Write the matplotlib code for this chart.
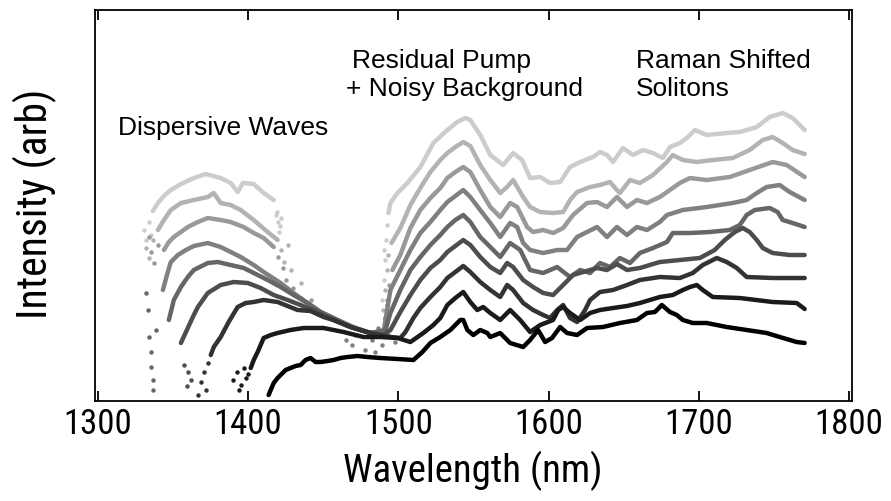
import matplotlib
matplotlib.use("Agg")
import matplotlib.pyplot as plt

# Spectra, bottom (black) to top (light grey).
# wavelength in nm, intensity in arbitrary units.
c1_wl = [1413.6, 1417, 1419.6, 1421.6, 1424.9, 1428.2, 1431.6, 1434.9, 1438.2, 1441.5,
         1444.9, 1448.2, 1452.9, 1456.8, 1461.5, 1466.1, 1472.8, 1479.4, 1488.1, 1499.4,
         1510, 1516, 1521.3, 1527.9, 1534.6, 1541.2, 1543.2, 1545.9, 1549.9, 1554.5,
         1559.2, 1561.2, 1567.8, 1574.4, 1583.1, 1587.7, 1593, 1597.7, 1602.3, 1607.7,
         1612.3, 1619, 1625.6, 1636.2, 1647.5, 1658.8, 1665.5, 1670.8, 1675.4, 1680.8,
         1685.4, 1689.4, 1696, 1705.3, 1718.6, 1731.9, 1745.2, 1753.9, 1765.2, 1770.5]
c1_int = [6, 18, 23, 26, 31, 33, 35, 36, 41, 43,
          39, 39, 40, 41, 43, 44, 45, 44, 43, 42,
          41, 49, 58, 64, 71, 81, 81, 71, 66, 71,
          68, 64, 68, 58, 54, 61, 71, 59, 63, 74,
          68, 66, 73, 74, 78, 81, 88, 89, 96, 89,
          86, 81, 78, 78, 74, 71, 68, 64, 59, 58]

c2_wl = [1401.7, 1403.7, 1406.3, 1408.3, 1410.3, 1415, 1419.6, 1428.2, 1436.9, 1450.2,
         1463.5, 1476.8, 1488.1, 1499.4, 1508, 1516.6, 1523.3, 1527.9, 1532.6, 1537.9,
         1543.2, 1547.9, 1552.5, 1556.5, 1561.2, 1567.8, 1574.4, 1581.1, 1587.7, 1594.4,
         1603, 1606.4, 1609.7, 1614.3, 1621, 1627.6, 1634.2, 1642.9, 1652.2, 1660.8,
         1674.1, 1682.7, 1689.4, 1694.1, 1698.7, 1702.7, 1709.3, 1727.3, 1749.2, 1765.2,
         1770.5]
c2_int = [33, 41, 49, 56, 63, 66, 68, 71, 73, 73,
          69, 64, 64, 63, 59, 68, 76, 83, 96, 103,
          109, 99, 91, 94, 88, 81, 91, 81, 69, 76,
          81, 91, 94, 88, 81, 88, 91, 93, 95, 98,
          104, 106, 111, 114, 116, 111, 104, 103, 99, 98,
          92]
c2_dots_wl = [1389.7, 1392.4, 1395, 1397, 1398.3, 1393.7, 1400]
c2_dots_int = [21, 29, 16, 33, 23, 11, 27]

c3_wl = [1375.1, 1377.1, 1381.7, 1387, 1393, 1398.3, 1403.7, 1410.3, 1419.6, 1432.9,
         1441.5, 1450.2, 1456.8, 1468.1, 1483.4, 1494.7, 1501.3, 1504.7, 1510, 1514.6,
         1521.3, 1527.9, 1532.6, 1537.9, 1543.2, 1547.9, 1554.5, 1561.2, 1567.8, 1572.4,
         1576.4, 1583.1, 1589.7, 1596.4, 1601, 1605.7, 1609.7, 1614.3, 1619, 1624.3,
         1627.6, 1634.2, 1642.9, 1652.2, 1660.8, 1674.1, 1687.4, 1696, 1702.7, 1712,
         1718.6, 1725.3, 1731.9, 1749.2, 1770.5]
c3_int = [46, 54, 64, 79, 94, 98, 99, 101, 99, 91,
          90, 84, 81, 74, 67, 64, 63, 69, 83, 93,
          104, 114, 123, 129, 135, 129, 119, 111, 104, 116,
          111, 98, 91, 86, 83, 91, 96, 83, 79, 91,
          101, 109, 111, 116, 121, 124, 123, 128, 136, 143,
          139, 133, 124, 123, 123]
c3_dots_wl = [1366.5, 1368.4, 1370.4, 1371.8, 1373.4]
c3_dots_int = [6, 19, 29, 11, 38]

c4_wl = [1355.2, 1359.8, 1363.8, 1366.5, 1373.1, 1381.7, 1390.4, 1399.7, 1408.3, 1417,
         1426.3, 1434.9, 1446.2, 1456.8, 1468.1, 1479.4, 1490, 1494.7, 1501.3, 1508,
         1514.6, 1521.3, 1527.9, 1532.6, 1537.9, 1543.2, 1547.9, 1554.5, 1561.2, 1567.8,
         1572.4, 1576.4, 1583.1, 1589.7, 1596.4, 1603, 1609.7, 1616.3, 1623, 1632.3,
         1638.9, 1645.5, 1652.2, 1660.8, 1674.1, 1687.4, 1700.7, 1710.6, 1717.3, 1724,
         1729.3, 1733.9, 1738.6, 1742.6, 1749.2, 1760.5, 1770.5]
c4_int = [58, 73, 86, 94, 108, 116, 119, 118, 113, 106,
          101, 96, 89, 81, 74, 69, 66, 71, 89, 106,
          121, 133, 141, 149, 155, 161, 156, 144, 134, 128,
          138, 134, 121, 114, 108, 106, 116, 126, 129, 133,
          131, 137, 131, 133, 139, 141, 143, 151, 161, 169,
          173, 169, 161, 153, 148, 146, 146]
c4_dots_wl = [1357.1, 1359.8, 1361.8, 1359.1]
c4_dots_int = [36, 29, 21, 15]

c5_wl = [1347.2, 1350.5, 1355.2, 1359.8, 1363.8, 1373.1, 1379.7, 1388.4, 1397, 1403.7,
         1413, 1421.6, 1430.2, 1439.5, 1448.2, 1459.5, 1470.1, 1481.4, 1491.4, 1494.7,
         1501.3, 1508, 1514.6, 1521.3, 1527.9, 1532.6, 1537.9, 1543.2, 1547.9, 1554.5,
         1561.2, 1567.8, 1574.4, 1581.1, 1587.7, 1596.4, 1605.7, 1614.3, 1621, 1627.6,
         1634.2, 1640.9, 1647.5, 1654.2, 1660.8, 1669.5, 1678.8, 1682.7, 1694.1, 1707.3,
         1720.6, 1727.3, 1731.9, 1737.3, 1747.2, 1752.5, 1755.9, 1762.5, 1770.5]
c5_int = [81, 101, 114, 124, 131, 138, 139, 136, 133, 128,
          121, 114, 106, 98, 89, 81, 73, 68, 71, 88,
          111, 131, 144, 156, 166, 174, 181, 186, 179, 164,
          154, 144, 158, 151, 131, 128, 134, 124, 131, 128,
          138, 134, 143, 138, 148, 153, 159, 168, 168, 169,
          171, 176, 186, 191, 193, 189, 181, 178, 174]
c5_dots_wl = [1331.9, 1333.2, 1333.9, 1335.2, 1335.2, 1336.5, 1336.5, 1338.5]
c5_dots_int = [108, 91, 64, 49, 34, 21, 11, 71]

c6_wl = [1343.2, 1346.5, 1348.5, 1353.2, 1358.5, 1363.8, 1373.1, 1381.7, 1388.4, 1395,
         1403.7, 1410.3, 1421.6, 1430.2, 1439.5, 1448.2, 1459.5, 1470.1, 1481.4, 1490,
         1494.7, 1501.3, 1508, 1514.6, 1521.3, 1527.9, 1532.6, 1537.9, 1543.2, 1547.9,
         1554.5, 1561.2, 1567.8, 1574.4, 1579.1, 1583.1, 1587.7, 1596.4, 1605.7, 1612.3,
         1619, 1625.6, 1632.3, 1638.9, 1645.5, 1652.2, 1658.8, 1665.5, 1674.1, 1678.8,
         1689.4, 1705.3, 1722.6, 1731.9, 1738.6, 1745.2, 1753.9, 1760.5, 1770.5]
c6_int = [111, 129, 139, 146, 151, 155, 158, 154, 149, 144,
          136, 129, 118, 108, 98, 89, 81, 74, 68, 68,
          111, 131, 151, 168, 179, 191, 199, 205, 211, 204,
          191, 178, 164, 178, 174, 158, 151, 148, 151, 151,
          164, 169, 174, 164, 174, 166, 174, 171, 179, 186,
          191, 194, 198, 201, 208, 214, 216, 209, 201]
c6_dots_wl = [1464.8, 1469.4, 1474.8, 1478.1, 1482.7, 1486.7, 1489.4, 1493.4, 1484.7, 1498,
              1491.4, 1492.7]
c6_dots_int = [61, 56, 71, 51, 61, 73, 56, 66, 49, 59, 83, 96]

c7_dw_wl = [1343.9, 1347.2, 1350.5, 1355.2, 1359.8, 1366.5, 1373.1, 1381.7, 1388.4, 1397,
            1403.7, 1410.3, 1417]
c7_dw_int = [151, 159, 164, 169, 174, 179, 183, 181, 179, 174, 168, 163, 154]
c7_wl = [1496, 1501.3, 1508, 1514.6, 1521.3, 1527.9, 1532.6, 1537.9, 1543.2, 1547.9,
         1554.5, 1561.2, 1567.8, 1574.4, 1579.1, 1585.7, 1589.7, 1596.4, 1603, 1609.7,
         1616.3, 1625.6, 1632.3, 1638.9, 1645.5, 1652.2, 1658.8, 1665.5, 1674.1, 1687.4,
         1694.1, 1705.3, 1720.6, 1733.9, 1749.2, 1758.5, 1770.5]
c7_int = [131, 146, 173, 191, 203, 213, 223, 229, 234, 229,
          211, 194, 184, 198, 194, 174, 169, 171, 168, 173,
          186, 198, 199, 194, 204, 194, 201, 198, 204, 218,
          223, 221, 224, 231, 239, 236, 224]
c7_dots_wl = [1333.9, 1335.2, 1337.2, 1339.9, 1419.6, 1422.9, 1424.9, 1429.6, 1434.9, 1441.5,
              1448.2, 1454.8, 1464.8, 1471.4, 1491.4, 1492.7, 1494]
c7_dots_int = [164, 149, 138, 156, 144, 133, 121, 113, 103, 101, 89, 83, 76, 66, 83, 101, 116]

c8_dw_wl = [1339.9, 1343.9, 1348.5, 1355.2, 1363.8, 1373.1, 1377.1, 1381.7, 1388.4, 1395,
            1403.7, 1413, 1419.6]
c8_dw_int = [171, 181, 191, 198, 201, 204, 208, 198, 196, 191, 181, 169, 161]
c8_wl = [1495.4, 1501.3, 1508, 1514.6, 1521.3, 1527.9, 1532.6, 1537.9, 1543.2, 1547.9,
         1554.5, 1561.2, 1567.8, 1572.4, 1576.4, 1583.1, 1587.7, 1594.4, 1603, 1609.7,
         1614.3, 1619, 1627.6, 1634.2, 1640.9, 1645.5, 1647.5, 1654.2, 1660.8, 1669.5,
         1678.8, 1682.7, 1689.4, 1698.7, 1709.3, 1722.6, 1733.9, 1742.6, 1749.2, 1755.9,
         1762.5, 1770.5]
c8_int = [158, 173, 196, 213, 229, 241, 248, 254, 259, 255,
          236, 221, 208, 214, 221, 204, 194, 189, 188, 189,
          201, 209, 214, 216, 219, 211, 208, 221, 218, 226,
          239, 246, 241, 239, 241, 243, 251, 261, 264, 258,
          251, 247]
c8_dots_wl = [1331.9, 1333.9, 1336.5, 1421.6, 1423.6, 1426.3, 1428.2, 1434.9, 1490, 1491.4,
              1492.7, 1493.4]
c8_dots_int = [153, 143, 161, 151, 139, 156, 131, 118, 91, 111, 131, 146]

c9_dw_wl = [1336.5, 1339.9, 1343.9, 1348.5, 1355.2, 1363.8, 1371.8, 1381.7, 1388.4, 1393,
            1396.4, 1403.7, 1410.3, 1417]
c9_dw_int = [190, 198, 205, 211, 217, 223, 227, 223, 218, 209, 218, 217, 208, 201]
c9_wl = [1493.4, 1494.7, 1499.4, 1506, 1514.6, 1523.3, 1532.6, 1539.2, 1544.5, 1547.9,
         1554.5, 1561.2, 1569.8, 1576.4, 1582.4, 1587.7, 1594.4, 1601, 1607.7, 1614.3,
         1621, 1629.6, 1634.2, 1638.9, 1642.9, 1649.5, 1656.2, 1662.8, 1669.5, 1676.1,
         1680.8, 1687.4, 1692.1, 1697.4, 1705.3, 1718.6, 1727.3, 1738.6, 1747.2, 1755.9,
         1762.5, 1770.5]
c9_int = [188, 198, 208, 218, 234, 258, 271, 279, 283, 281,
          266, 246, 236, 248, 241, 223, 224, 218, 219, 234,
          239, 244, 249, 246, 239, 253, 246, 251, 248, 243,
          254, 258, 263, 271, 266, 268, 269, 274, 284, 288,
          283, 271]
c9_dots_wl = [1330.6, 1331.9, 1333.9, 1335.2, 1418.3, 1418.9, 1419.6, 1420.3, 1420.9, 1421.6,
              1489.4, 1490.7, 1491.4, 1492, 1490.7, 1492.7]
c9_dots_int = [171, 161, 179, 166, 186, 189, 179, 169, 175, 183,
               101, 121, 141, 161, 151, 176]

x_ticks = [1300, 1400, 1500, 1600, 1700, 1800]

# each curve: (grey level, solid segments, scattered noisy points)
curves = [
    ("0.0", [(c1_wl, c1_int)], ([], [])),
    ("0.1", [(c2_wl, c2_int)], (c2_dots_wl, c2_dots_int)),
    ("0.2", [(c3_wl, c3_int)], (c3_dots_wl, c3_dots_int)),
    ("0.3", [(c4_wl, c4_int)], (c4_dots_wl, c4_dots_int)),
    ("0.4", [(c5_wl, c5_int)], (c5_dots_wl, c5_dots_int)),
    ("0.5", [(c6_wl, c6_int)], (c6_dots_wl, c6_dots_int)),
    ("0.6", [(c7_dw_wl, c7_dw_int), (c7_wl, c7_int)], (c7_dots_wl, c7_dots_int)),
    ("0.7", [(c8_dw_wl, c8_dw_int), (c8_wl, c8_int)], (c8_dots_wl, c8_dots_int)),
    ("0.8", [(c9_dw_wl, c9_dw_int), (c9_wl, c9_int)], (c9_dots_wl, c9_dots_int)),
]

# narrow sans for the axis text (Arial Narrow look), first one installed wins
narrow = ["Liberation Sans Narrow", "Arial Narrow", "Roboto Condensed",
          "PT Sans Narrow", "Archivo Narrow", "Liberation Sans", "DejaVu Sans"]
plt.rcParams["font.family"] = narrow

fig = plt.figure(figsize=(8.91, 5.01), dpi=100)
ax = fig.add_axes([0.1066, 0.1996, 0.8496, 0.7804])

for grey, segments, dots in reversed(curves):
    for wl, inten in segments:
        ax.plot(wl, inten, color=grey, lw=3.2, solid_joinstyle="round",
                solid_capstyle="round")
    if dots[0]:
        ax.plot(dots[0], dots[1], "o", color=grey, ms=3.2, mew=0)

ax.set_xlim(1298, 1802)
ax.set_ylim(0, 391)
ax.set_yticks([])
ax.set_xticks(x_ticks)
ax.tick_params(axis="x", direction="in", top=True, length=7, width=1.3,
               labelsize=25, pad=5)
for s in ax.spines.values():
    s.set_linewidth(1.3)

fig.text(473 / 891, 1 - 471 / 501, "Wavelength (nm)", ha="center", va="center",
         fontsize=28)
fig.text(35 / 891, 1 - 204 / 501, "Intensity (arb)", ha="center", va="center",
         rotation=90, fontsize=30)

note = dict(fontsize=19, family=["Liberation Sans", "DejaVu Sans"])
ax.text(1313, 273, "Dispersive Waves", ha="left", va="center", **note)
ax.text(1469.4, 340, "Residual Pump", ha="left", va="center", **note)
ax.text(1464.8, 312, "+ Noisy Background", ha="left", va="center", **note)
ax.text(1658, 340, "Raman Shifted", ha="left", va="center", **note)
ax.text(1658, 312, "Solitons", ha="left", va="center", **note)

fig.savefig("out.png", dpi=100)
